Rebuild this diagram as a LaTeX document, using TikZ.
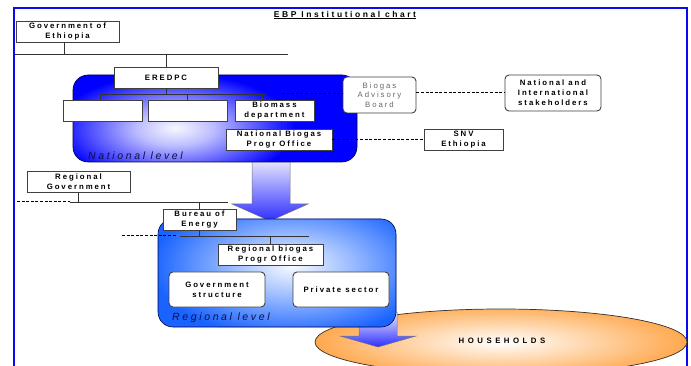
\documentclass[tikz,border=0pt]{standalone}
\usepackage{fontspec}
\setmainfont{Liberation Sans}
\newfontfamily\lblfont[LetterSpace=25]{Liberation Sans}
\newfontfamily\ttlfont[LetterSpace=30]{Liberation Sans}
\newfontfamily\hhfont[LetterSpace=45]{Liberation Sans}
\definecolor{frameblue}{RGB}{10,10,240}
\definecolor{natblue}{RGB}{0,0,255}
\definecolor{regblue}{RGB}{25,100,255}
\definecolor{arrowtop}{RGB}{238,238,255}
\definecolor{arrowbot}{RGB}{45,45,255}
\definecolor{hhorange}{RGB}{255,150,40}
\definecolor{lvltext}{RGB}{15,15,70}
\definecolor{boardtext}{RGB}{105,105,105}
% light spots on the two level panels
\pgfdeclareradialshading{natspot}{\pgfpoint{0bp}{0bp}}{rgb(0bp)=(0.97,0.97,1); rgb(8bp)=(0.74,0.74,1); rgb(25bp)=(0,0,1); rgb(50bp)=(0,0,1)}
\pgfdeclareradialshading{regspot}{\pgfpoint{0bp}{0bp}}{rgb(0bp)=(0.97,0.98,1); rgb(8bp)=(0.7,0.8,1); rgb(25bp)=(0.1,0.39,1); rgb(50bp)=(0.1,0.39,1)}
\tikzset{
  box/.style={draw=black!75, line width=0.9pt, fill=white, inner sep=0pt, align=center,
    font=\lblfont\bfseries\fontsize{7.8}{10}\selectfont},
  rbox/.style={box, rounded corners=4pt},
  link/.style={draw=black!80, line width=0.9pt},
  dlink/.style={draw=black, line width=1pt, dash pattern=on 3pt off 1.6pt},
  bigarrow/.style={draw=black!55, line width=0.5pt, top color=arrowtop, bottom color=arrowbot},
  leveltext/.style={font=\lblfont\itshape\fontsize{10.5}{12}\selectfont, text=lvltext, anchor=west, inner sep=0pt},
}
\begin{document}
\begin{tikzpicture}[x=1pt,y=-1pt]
\useasboundingbox (0,0) rectangle (691,366);

% page frame (open at the bottom)
\draw[frameblue, line width=2pt] (14,366) -- (14,8) -- (687,8) -- (687,366);

% title
\node[font=\ttlfont\bfseries\fontsize{8.5}{10}\selectfont, inner sep=0pt] (title) at (345,15) {\underline{EBP Institutional chart}};

% households ellipse
\begin{scope}
  \clip (501,342) ellipse (186 and 33);
  \fill[hhorange] (315,305) rectangle (690,380);
  \shade[inner color=white, outer color=hhorange] (501,342) ellipse (225 and 46);
\end{scope}
\draw[black!80, line width=0.7pt] (501,342) ellipse (186 and 33);
\node[font=\hhfont\bfseries\fontsize{7.8}{10}\selectfont, inner sep=0pt] (hh) at (502,341) {HOUSEHOLDS};

% arrows between levels
\path[bigarrow] (359,312) -- (397,312) -- (397,336) -- (416,336) -- (378,347) -- (340,336) -- (359,336) -- cycle;
\path[bigarrow] (252,158) -- (290,158) -- (290,204) -- (308,204) -- (270,221) -- (232,204) -- (252,204) -- cycle;

% national level panel
\begin{scope}
  \clip[rounded corners=15pt] (73,75) rectangle (357,162);
  \fill[natblue] (70,70) rectangle (360,165);
  \shade[shading=natspot] (175,128) ellipse (120 and 55);
\end{scope}
\draw[blue!30!black, line width=0.6pt, rounded corners=15pt] (73,75) rectangle (357,162);

% regional level panel
\begin{scope}
  \clip[rounded corners=15pt] (158,219) rectangle (396,327);
  \fill[regblue] (155,215) rectangle (400,330);
  \shade[shading=regspot] (292,266) ellipse (140 and 72);
\end{scope}
\draw[blue!30!black, line width=0.6pt, rounded corners=15pt] (158,219) rectangle (396,327);

% level captions
\node[leveltext] (natlvl) at (88,156) {National level};
\node[leveltext] (reglvl) at (172,318) {Regional level};

% national organisation boxes
\node[box, minimum width=103, minimum height=21] (gov) at (67.5,31.5) {Government of\\Ethiopia};
\node[box, minimum width=104, minimum height=21] (eredpc) at (166,77.5) {EREDPC};
\node[box, minimum width=79, minimum height=21] (dep1) at (102.5,110.5) {};
\node[box, minimum width=79, minimum height=21] (dep2) at (187.5,110.5) {};
\node[box, minimum width=79, minimum height=21] (biomass) at (274.5,110.5) {Biomass\\department};
\node[box, minimum width=106, minimum height=21] (nbpo) at (279,139.5) {National Biogas\\Progr Office};
\node[box, minimum width=79, minimum height=21] (snv) at (463.5,139.5) {SNV\\Ethiopia};
\node[rbox, minimum width=73, minimum height=36, text=boardtext,
      font=\lblfont\fontsize{7.8}{9.5}\selectfont] (board) at (379.5,95) {Biogas\\Advisory\\Board};
\node[rbox, minimum width=96, minimum height=36] (stake) at (553,93) {National and\\International\\stakeholders};

% regional organisation boxes
\node[box, minimum width=103, minimum height=21] (rgov) at (78.5,181.5) {Regional\\Government};
\node[box, minimum width=73, minimum height=21] (bureau) at (199.5,219.5) {Bureau of\\Energy};
\node[box, minimum width=105, minimum height=21] (rbpo) at (270.5,254.5) {Regional biogas\\Progr Office};
\node[rbox, minimum width=96, minimum height=35] (gstruct) at (217,289.5) {Government\\structure};
\node[rbox, minimum width=96, minimum height=35] (private) at (341,289.5) {Private sector};

% federal bus
\coordinate (gbusL) at (15,54);
\coordinate (gbusR) at (288,54);
\draw[link] (gbusL) -- (gbusR);
\draw[link] ([xshift=-3.5pt]gov.south) -- ([xshift=-3.5pt]gov.south |- gbusL);
\draw[link] (eredpc.north) -- (eredpc.north |- gbusL);

% EREDPC departments
\coordinate (dbusL) at (100,94);
\coordinate (dbusR) at (266,94);
\coordinate (dbusB) at (262,94);
\draw[link] (eredpc.south) -- (eredpc.south |- dbusL);
\draw[link] (dbusL) -- (dbusR);
\draw[link] (dbusL) -- (dbusL |- dep1.north);
\draw[link] (dep2.north |- dbusL) -- (dep2.north);
\draw[link] (dbusB) -- (dbusB |- biomass.north);
\draw[link] ([xshift=6.5pt]biomass.south) -- ([xshift=6.5pt]biomass.south |- nbpo.north);

% advisory links
\coordinate (dashA) at (282,94);
\draw[dlink] (dashA) -- (dashA -| board.west);
\draw[dlink] (board.east |- stake.west) -- (stake.west);
\draw[dlink] (nbpo.east) -- (snv.west);

% regional bus
\coordinate (rbusL) at (70,202);
\coordinate (rbusR) at (228,202);
\coordinate (rdashL) at (17,202);
\draw[link] (rbusL) -- (rbusR);
\draw[dlink] (rdashL) -- (rbusL);
\draw[link] (rgov.south) -- (rgov.south |- rbusL);
\draw[link] (bureau.north |- rbusL) -- (bureau.north);

% bureau bus
\coordinate (bbusL) at (180,236);
\coordinate (bbusR) at (309,236);
\coordinate (bdashL) at (122,236);
\coordinate (bdashR) at (177,236);
\draw[link] (bbusL) -- (bbusR);
\draw[dlink] (bdashL) -- (bdashR);
\draw[link] (bureau.south) -- (bureau.south |- bbusL);
\draw[link] (rbpo.north |- bbusL) -- (rbpo.north);
\end{tikzpicture}
\end{document}
